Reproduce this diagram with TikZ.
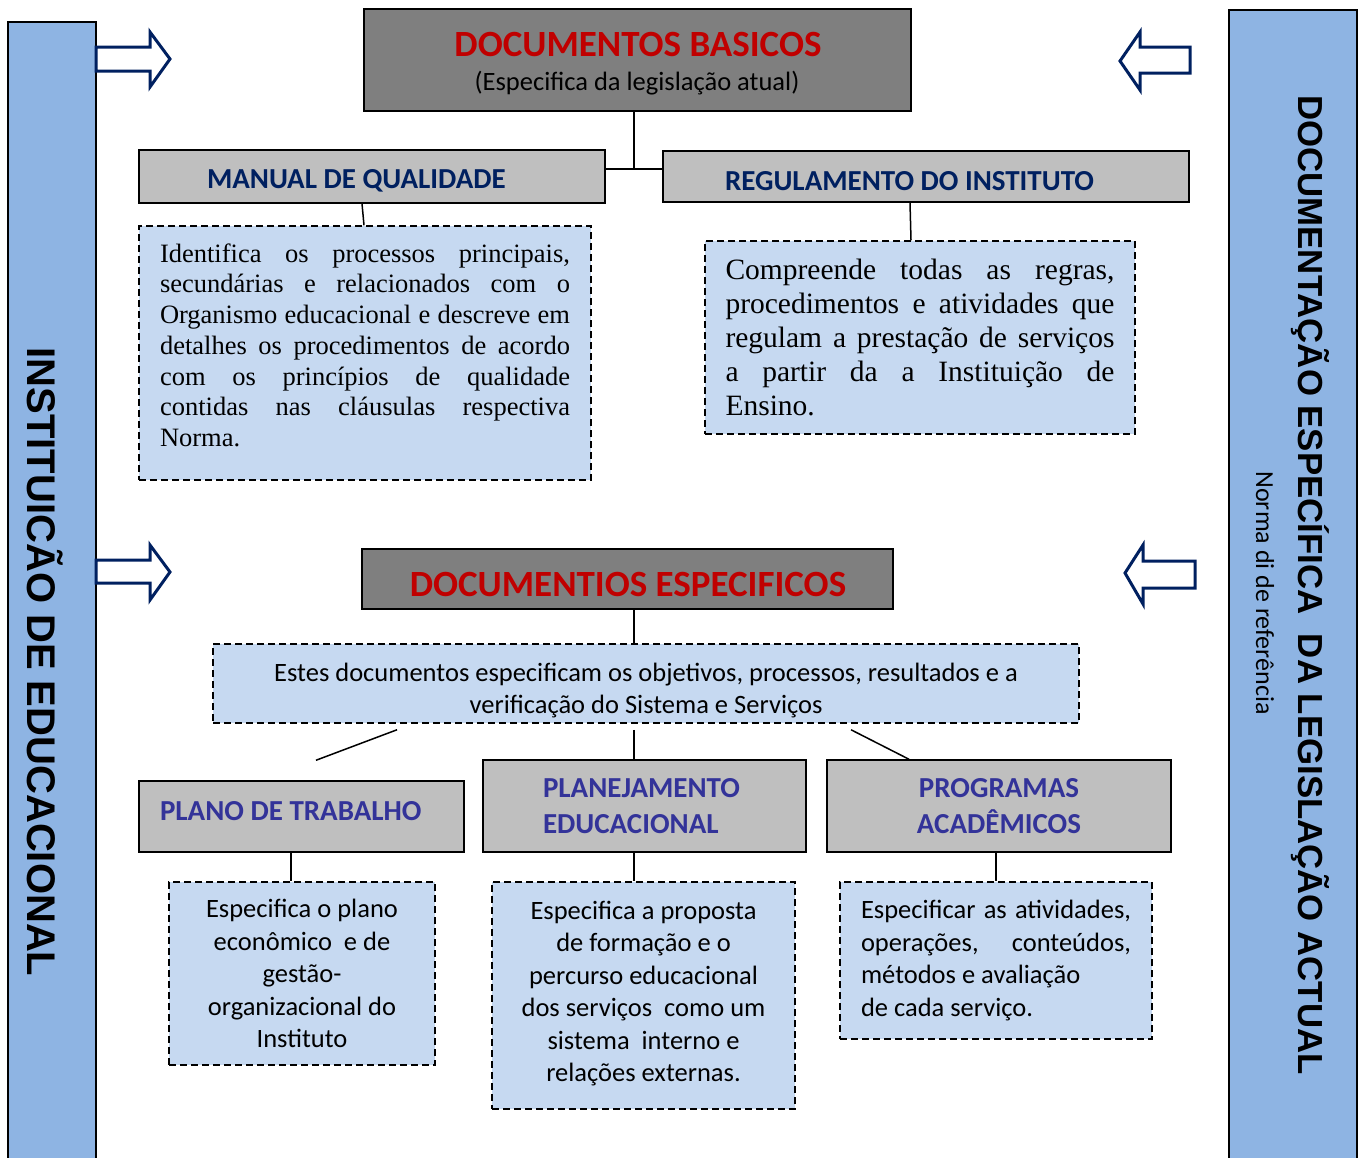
\documentclass[tikz,border=0pt]{standalone}
\usepackage{fontspec}
\setmainfont{Liberation Serif}
\newfontfamily\calib{Carlito}
\newfontfamily\arialf{Liberation Sans}
\definecolor{barblue}{HTML}{8EB4E3}
\definecolor{lblue}{HTML}{C6D9F1}
\definecolor{dgray}{HTML}{7F7F7F}
\definecolor{lgray}{HTML}{BFBFBF}
\definecolor{navy}{HTML}{002060}
\definecolor{pblue}{HTML}{333399}
\definecolor{tred}{HTML}{C00000}
\newcommand{\ns}{\spaceskip=0pt\xspaceskip=0pt\relax}
\newcommand{\jline}[2]{\makebox[#1][s]{\ns #2}}
\begin{document}
\begin{tikzpicture}[x=1pt,y=-1pt,
  bar/.style={draw=black, line width=1.5pt, fill=barblue, inner sep=0pt},
  darkbox/.style={draw=black, line width=2pt, fill=dgray, inner sep=0pt},
  hdr/.style={draw=black, line width=1.5pt, fill=lgray, inner ysep=0pt, font=\calib\bfseries\fontsize{29}{36}\selectfont},
  desc/.style={draw=black, line width=1.5pt, dash pattern=on 7pt off 4pt, fill=lblue, inner sep=0pt},
  conn/.style={line width=1.5pt},
  barrow/.style={draw=navy, line width=3pt, fill=white, line join=miter},
  title/.style={font=\calib\bfseries\fontsize{37}{40}\selectfont, text=tred, inner sep=0pt}
]
\useasboundingbox (0,0) rectangle (1364,1157);

% side bars
\node[bar, minimum width=88pt, minimum height=1143pt] (lbar) at (52,593.5) {};
\node[bar, minimum width=128pt, minimum height=1155pt] (rbar) at (1293,587.5) {};
\node[rotate=-90, font=\arialf\bfseries\fontsize{40}{40}\selectfont] (ltext) at (45,662) {INSTITUICÃO DE EDUCACIONAL};
\node[rotate=-90, font=\arialf\bfseries\fontsize{34.8}{35}\selectfont] (rtext) at (1310,585) {DOCUMENTAÇÃO ESPECÍFICA\ \ DA LEGISLAÇÃO ACTUAL};
\node[rotate=-90, font=\calib\fontsize{26}{30}\selectfont] (rsub) at (1265,593) {Norma di de referência};

% block arrows
\draw[barrow] (96,47) -- (150,47) -- (150,32) -- (170,59) -- (150,87) -- (150,71) -- (96,71) -- cycle;
\draw[barrow] (96,560) -- (150,560) -- (150,545) -- (170,572) -- (150,600) -- (150,583) -- (96,583) -- cycle;
\draw[barrow] (1190,47) -- (1140,47) -- (1140,32) -- (1120,61) -- (1140,90) -- (1140,73) -- (1190,73) -- cycle;
\draw[barrow] (1195,561) -- (1143,561) -- (1143,545) -- (1125,573) -- (1143,604) -- (1143,588) -- (1195,588) -- cycle;

% top part
\node[darkbox, minimum width=547pt, minimum height=102pt] (basic) at (637.5,60) {};
\node[title] (basict) at (638,44) {DOCUMENTOS BASICOS};
\node[inner sep=0pt, font=\calib\fontsize{26.5}{30}\selectfont] (basics) at (637,83) {(Especifica da legislação atual)};
\node[hdr, text=navy, minimum width=466pt, minimum height=53pt, inner xsep=68pt, text width=330pt, align=flush left] (manual) at (372,176.5) {\ns\rule{0pt}{27pt}MANUAL DE QUALIDADE};
\node[hdr, text=navy, minimum width=526pt, minimum height=51pt, inner xsep=62pt, text width=402pt, align=flush left] (reg) at (926,176.5) {\ns\rule{0pt}{28pt}REGULAMENTO DO INSTITUTO};

\node[desc, minimum width=452pt, minimum height=254pt, text width=410pt, align=flush left, font=\fontsize{26.5}{30.7}\selectfont] (mandesc) at (365,353)
  {\jline{410pt}{Identifica os processos principais,}\\
   \jline{410pt}{secundárias e relacionados com o}\\
   \jline{410pt}{Organismo educacional e descreve em}\\
   \jline{410pt}{detalhes os procedimentos de acordo}\\
   \jline{410pt}{com os princípios de qualidade}\\
   \jline{410pt}{contidas nas cláusulas respectiva}\\
   Norma.\rule[-16pt]{0pt}{0pt}};
\node[desc, minimum width=430pt, minimum height=193pt, text width=389pt, align=flush left, font=\fontsize{29.5}{34}\selectfont] (regdesc) at (920,337.5)
  {\jline{389pt}{Compreende todas as regras,}\\
   \jline{389pt}{procedimentos e atividades que}\\
   \jline{389pt}{regulam a prestação de serviços}\\
   \jline{389pt}{a partir da a Instituição de}\\
   Ensino.};

\coordinate (j1) at (634,169);
\draw[conn] (basic.south -| j1) -- (j1);
\draw[conn] (manual.east |- j1) -- (reg.west |- j1);
\draw[conn] (manual.south -| 362,0) -- (mandesc.north -| 364,0);
\draw[conn] (reg.south -| 910,0) -- (regdesc.north -| 911,0);

% bottom part
\node[darkbox, minimum width=531pt, minimum height=60pt] (espec) at (627.5,579) {};
\node[title] (espect) at (628,584) {DOCUMENTIOS ESPECIFICOS};
\node[desc, minimum width=866pt, minimum height=79pt, align=center, font=\calib\fontsize{26.5}{32}\selectfont] (estes) at (646,683.5)
  {\rule{0pt}{32pt}Estes documentos especificam os objetivos, processos, resultados e a\\verificação do Sistema e Serviços};
\draw[conn] (espec.south -| 634,0) -- (estes.north -| 634,0);

\node[hdr, text=pblue, minimum width=325pt, minimum height=71pt, inner xsep=21pt, text width=283pt, align=flush left] (plano) at (301.5,816.5) {\ns PLANO DE TRABALHO\rule[-12pt]{0pt}{0pt}};
\node[hdr, text=pblue, minimum width=323pt, minimum height=92pt, inner xsep=60pt, text width=203pt, align=flush left] (planej) at (644.5,806) {\ns PLANEJAMENTO\\EDUCACIONAL};
\node[hdr, text=pblue, minimum width=344pt, minimum height=92pt, align=center] (progr) at (999,806) {PROGRAMAS\\ACADÊMICOS};

\draw[conn] ([yshift=-6pt]estes.south -| 397,0) -- ([yshift=20pt]plano.north -| 316,0);
\draw[conn] ([yshift=-6pt]estes.south -| 634,0) -- (planej.north -| 634,0);
\draw[conn] ([yshift=-6pt]estes.south -| 851,0) -- (progr.north -| 909,0);

\node[desc, minimum width=266pt, minimum height=183pt, align=center, font=\calib\fontsize{26.5}{32.5}\selectfont] (pldesc) at (302,973.5)
  {Especifica o plano\\econômico~ e de\\gestão-\\organizacional do\\Instituto};
\node[desc, minimum width=303pt, minimum height=227pt, align=center, font=\calib\fontsize{26.5}{32.5}\selectfont] (pjdesc) at (643.5,995.5)
  {Especifica a proposta\\de formação e o\\percurso educacional\\dos serviços~ como um\\sistema~ interno e\\relações externas.\rule[-8pt]{0pt}{0pt}};
\node[desc, minimum width=312pt, minimum height=157pt, text width=270pt, align=flush left, font=\calib\fontsize{26.5}{32.5}\selectfont] (prdesc) at (996,960.5)
  {\jline{270pt}{Especificar as atividades,}\\
   \jline{270pt}{operações,\ \ \ conteúdos,}\\
   \ns métodos e avaliação\\
   \ns de cada serviço.};

\draw[conn] (plano.south -| 291,0) -- (pldesc.north -| 291,0);
\draw[conn] (planej.south -| 634,0) -- (pjdesc.north -| 634,0);
\draw[conn] (progr.south -| 996,0) -- (prdesc.north -| 996,0);
\end{tikzpicture}
\end{document}
